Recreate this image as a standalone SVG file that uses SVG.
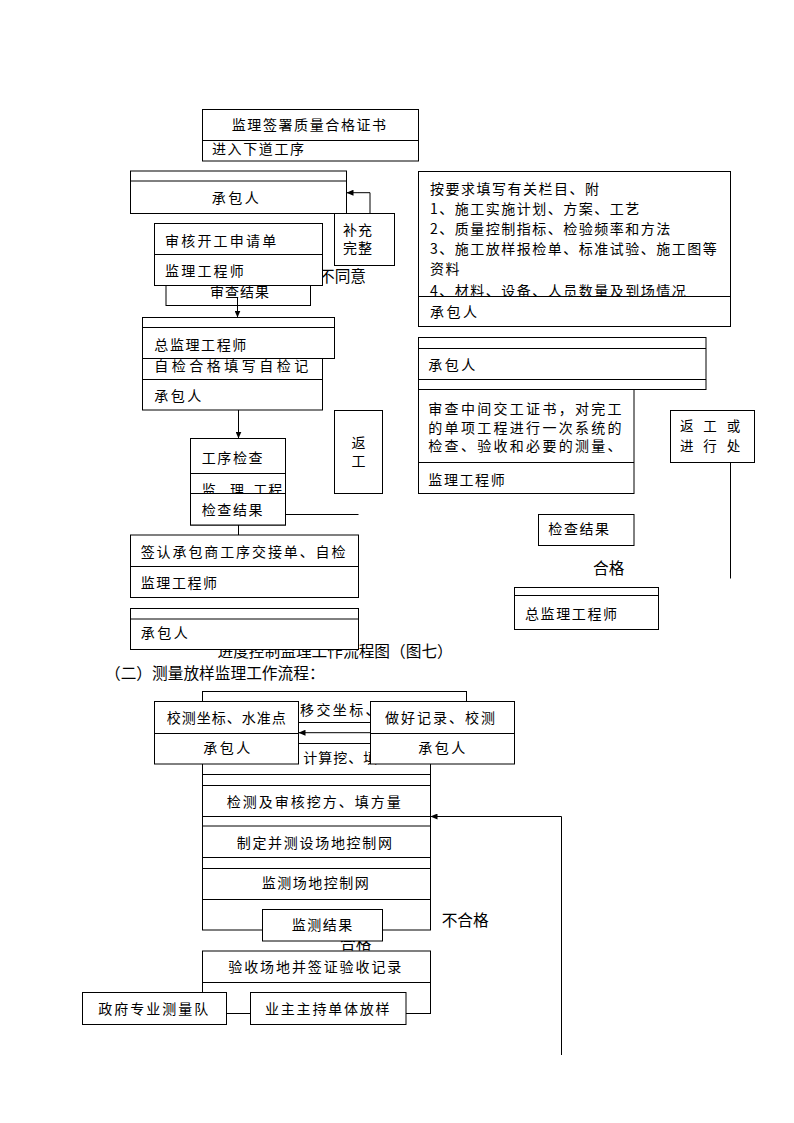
<svg xmlns="http://www.w3.org/2000/svg" width="794" height="1123" viewBox="0 0 794 1123">
<style>
rect{fill:#fff;stroke:#000;stroke-width:1}
line,path.c{stroke:#000;stroke-width:1;fill:none}
text{font-family:'Noto Sans CJK SC','Liberation Sans',sans-serif;fill:#000}
.t{font-size:14px;letter-spacing:1.6px}
.w{font-size:14px;letter-spacing:2.3px}
.L{font-size:15.7px}
</style>
<defs>
<marker id="ah" markerUnits="userSpaceOnUse" markerWidth="7" markerHeight="6" refX="7" refY="3" orient="auto"><path d="M0,0 L7,3 L0,6 z" fill="#000"/></marker>
<clipPath id="c1"><rect x="202.5" y="141" width="216" height="20"/></clipPath>
<clipPath id="c2"><rect x="418.5" y="171.5" width="312" height="125"/></clipPath>
</defs>

<g id="n-cert">
<rect x="202.5" y="109.5" width="216" height="51.5"/>
<line x1="202.5" y1="140.5" x2="418.5" y2="140.5"/>
<text class="t" x="231.7" y="130">监理签署质量合格证书</text>
<text class="t" x="212" y="154" clip-path="url(#c1)">进入下道工序</text>
</g>

<g id="n-contractor1">
<rect x="130.5" y="171" width="216" height="42.5"/>
<line x1="130.5" y1="181" x2="346.5" y2="181"/>
<text class="t" x="211.7" y="202.5" style="letter-spacing:2.5px">承包人</text>
</g>

<g id="n-supplement">
<rect x="334.5" y="213.5" width="60" height="52"/>
<text class="t" x="343" y="235.3" style="letter-spacing:1px">补充</text>
<text class="t" x="343" y="253.3" style="letter-spacing:1px">完整</text>
</g>

<g id="n-review-result">
<rect x="166" y="276" width="144.5" height="29.5"/>
<text class="t" x="210" y="296.7" style="letter-spacing:1px">审查结果</text>
</g>

<text class="L" x="319" y="282">不同意</text>

<g id="n-review-app">
<rect x="154.5" y="223.5" width="168" height="62"/>
<line x1="154.5" y1="254.5" x2="322.5" y2="254.5"/>
<text class="t" x="165" y="245.7" style="letter-spacing:2.2px">审核开工申请单</text>
<text class="t" x="165" y="275.8" style="letter-spacing:2.2px">监理工程师</text>
</g>

<g id="n-selfcheck">
<rect x="142.5" y="317.5" width="180" height="92.5"/>
<line x1="142.5" y1="379.5" x2="322.5" y2="379.5"/>
<text class="t" x="154.3" y="370.7" style="letter-spacing:3.5px">自检合格填写自检记</text>
<text class="t" x="154.3" y="400.8" style="letter-spacing:2.5px">承包人</text>
</g>

<g id="n-chief1">
<rect x="142.5" y="317.5" width="192" height="41"/>
<line x1="142.5" y1="327.5" x2="334.5" y2="327.5"/>
<text class="t" x="154.3" y="350">总监理工程师</text>
</g>

<g id="n-process-check">
<rect x="190.5" y="438.5" width="95" height="86.5"/>
<line x1="190.5" y1="473.5" x2="285.5" y2="473.5"/>
<text class="t" x="201.7" y="463">工序检查</text>
<text class="t" x="201.7 230 253.3 268.3" y="495">监理工程</text>
<rect x="190.5" y="493.5" width="95" height="31.5"/>
<text class="t" x="201.7" y="515.3">检查结果</text>
</g>

<g id="n-rework1">
<rect x="334.5" y="410.5" width="48" height="83"/>
<text class="t" x="358.5" y="448" text-anchor="middle" style="letter-spacing:0">返</text>
<text class="t" x="358.5" y="466" text-anchor="middle" style="letter-spacing:0">工</text>
</g>

<g id="n-handover">
<rect x="130.5" y="535" width="228" height="62.5"/>
<line x1="130.5" y1="566.5" x2="358.5" y2="566.5"/>
<text class="t" x="140.7" y="556.7" style="letter-spacing:1.9px">签认承包商工序交接单、自检</text>
<text class="t" x="140.7" y="587.5">监理工程师</text>
</g>

<text class="L" x="217.5" y="656.5">进度控制监理工作流程图（图七）</text>

<g id="n-contractor2">
<rect x="130.5" y="608.5" width="228" height="41"/>
<line x1="130.5" y1="619" x2="358.5" y2="619"/>
<text class="t" x="140.7" y="638.3" style="letter-spacing:2.5px">承包人</text>
</g>

<text class="L" x="105" y="679">（二）测量放样监理工作流程：</text>

<g id="n-requirements">
<rect x="418.5" y="171.5" width="312" height="155"/>
<line x1="418.5" y1="296.5" x2="730.5" y2="296.5"/>
<g clip-path="url(#c2)">
<text class="t" x="430" y="194" style="letter-spacing:1.5px">按要求填写有关栏目、附</text>
<text class="t" x="430" y="214" style="letter-spacing:1.5px">1、施工实施计划、方案、工艺</text>
<text class="t" x="430" y="234" style="letter-spacing:1.5px">2、质量控制指标、检验频率和方法</text>
<text class="t" x="430" y="254" style="letter-spacing:1.5px">3、施工放样报检单、标准试验、施工图等</text>
<text class="t" x="430" y="274" style="letter-spacing:1.5px">资料</text>
<text class="t" x="430" y="296" style="letter-spacing:1.5px">4、材料、设备、人员数量及到场情况</text>
</g>
<text class="t" x="430" y="316.7" style="letter-spacing:2.5px">承包人</text>
</g>

<g id="n-contractor3">
<rect x="418.5" y="337.5" width="287.5" height="52"/>
<line x1="418.5" y1="348.5" x2="706" y2="348.5"/>
<line x1="418.5" y1="379.5" x2="706" y2="379.5"/>
<text class="t" x="428.3" y="370" style="letter-spacing:2.5px">承包人</text>
</g>

<g id="n-interim">
<rect x="418.5" y="389.5" width="215.5" height="104"/>
<line x1="418.5" y1="462.5" x2="634" y2="462.5"/>
<text class="w" x="428.3" y="414.3">审查中间交工证书，对完工</text>
<text class="w" x="428.3" y="432.7">的单项工程进行一次系统的</text>
<text class="w" x="428.3" y="451">检查、验收和必要的测量、</text>
<text class="t" x="428.3" y="485">监理工程师</text>
</g>

<g id="n-rework2">
<rect x="670.5" y="410.5" width="84" height="52"/>
<text class="t" x="680 703.3 726.7" y="430.5" style="font-size:13.5px">返工或</text>
<text class="t" x="680 703.3 726.7" y="450.5" style="font-size:13.5px">进行处</text>
</g>

<g id="n-check-result2">
<rect x="538.5" y="514.5" width="95.5" height="31"/>
<text class="t" x="548.3" y="534.3">检查结果</text>
</g>

<text class="L" x="593" y="574">合格</text>

<g id="n-chief2">
<rect x="514.5" y="587.5" width="144" height="42"/>
<line x1="514.5" y1="595.5" x2="658.5" y2="595.5"/>
<text class="t" x="525" y="619">总监理工程师</text>
</g>

<g id="n-handover-coords">
<rect x="202.5" y="691.5" width="264" height="31"/>
<text class="t" x="300" y="715" style="letter-spacing:2.4px">移交坐标、</text>
</g>

<g id="n-survey-main">
<rect x="202.5" y="743.5" width="228" height="186.5"/>
<line x1="202.5" y1="774.5" x2="430.5" y2="774.5"/>
<line x1="202.5" y1="785.5" x2="430.5" y2="785.5"/>
<line x1="202.5" y1="816.5" x2="430.5" y2="816.5"/>
<line x1="202.5" y1="826" x2="430.5" y2="826"/>
<line x1="202.5" y1="857.5" x2="430.5" y2="857.5"/>
<line x1="202.5" y1="868.5" x2="430.5" y2="868.5"/>
<line x1="202.5" y1="899.5" x2="430.5" y2="899.5"/>
<text class="t" x="303.3" y="763.3" style="letter-spacing:1px">计算挖、填</text>
<text class="t" x="226.7" y="806.7" style="letter-spacing:2px">检测及审核挖方、填方量</text>
<text class="t" x="236.7" y="848.3" style="letter-spacing:1.7px">制定并测设场地控制网</text>
<text class="t" x="261.7" y="888.3" style="letter-spacing:1.5px">监测场地控制网</text>
</g>

<g id="n-check-coords">
<rect x="154.5" y="701.5" width="144" height="62.5"/>
<line x1="154.5" y1="733.5" x2="298.5" y2="733.5"/>
<text class="t" x="166.7" y="722.5" style="letter-spacing:1px">校测坐标、水准点</text>
<text class="t" x="203.3" y="753.3" style="letter-spacing:2.5px">承包人</text>
</g>

<g id="n-record">
<rect x="370.5" y="701.5" width="144" height="62.5"/>
<line x1="370.5" y1="733.5" x2="514.5" y2="733.5"/>
<text class="t" x="385" y="722.5" style="letter-spacing:2px">做好记录、校测</text>
<text class="t" x="418.3" y="753.3" style="letter-spacing:2.5px">承包人</text>
</g>

<text class="L" x="340" y="948.5">合格</text>
<text class="L" x="441.7" y="925.5">不合格</text>

<g id="n-monitor-result">
<rect x="262.5" y="909.5" width="120" height="31.5"/>
<text class="t" x="291.7" y="929.5" style="letter-spacing:1.5px">监测结果</text>
</g>

<g id="n-acceptance">
<rect x="202.5" y="951" width="228" height="62.5"/>
<line x1="202.5" y1="982.5" x2="430.5" y2="982.5"/>
<text class="t" x="228.3" y="971.7" style="letter-spacing:1.9px">验收场地并签证验收记录</text>
</g>

<g id="n-gov">
<rect x="82.5" y="992.5" width="144" height="32"/>
<text class="t" x="98.3" y="1013.5" style="letter-spacing:2px">政府专业测量队</text>
</g>

<g id="n-owner">
<rect x="250.5" y="992.5" width="155.5" height="32"/>
<text class="t" x="265" y="1013.5" style="letter-spacing:1.8px">业主主持单体放样</text>
</g>

<g id="connectors">
<path class="c" d="M370,213.5 V192.7 H346.5" marker-end="url(#ah)"/>
<line x1="237.5" y1="297" x2="237.5" y2="317.5" marker-end="url(#ah)"/>
<line x1="238.5" y1="410" x2="238.5" y2="438.5" marker-end="url(#ah)"/>
<line x1="285.5" y1="514.5" x2="358.5" y2="514.5"/>
<line x1="238.5" y1="525" x2="238.5" y2="535"/>
<line x1="730.5" y1="462.5" x2="730.5" y2="578.5"/>
<line x1="370.5" y1="732.7" x2="298.5" y2="732.7" marker-end="url(#ah)"/>
<path class="c" d="M561.5,1055 V816.5 H430.5" marker-end="url(#ah)"/>
</g>
</svg>
